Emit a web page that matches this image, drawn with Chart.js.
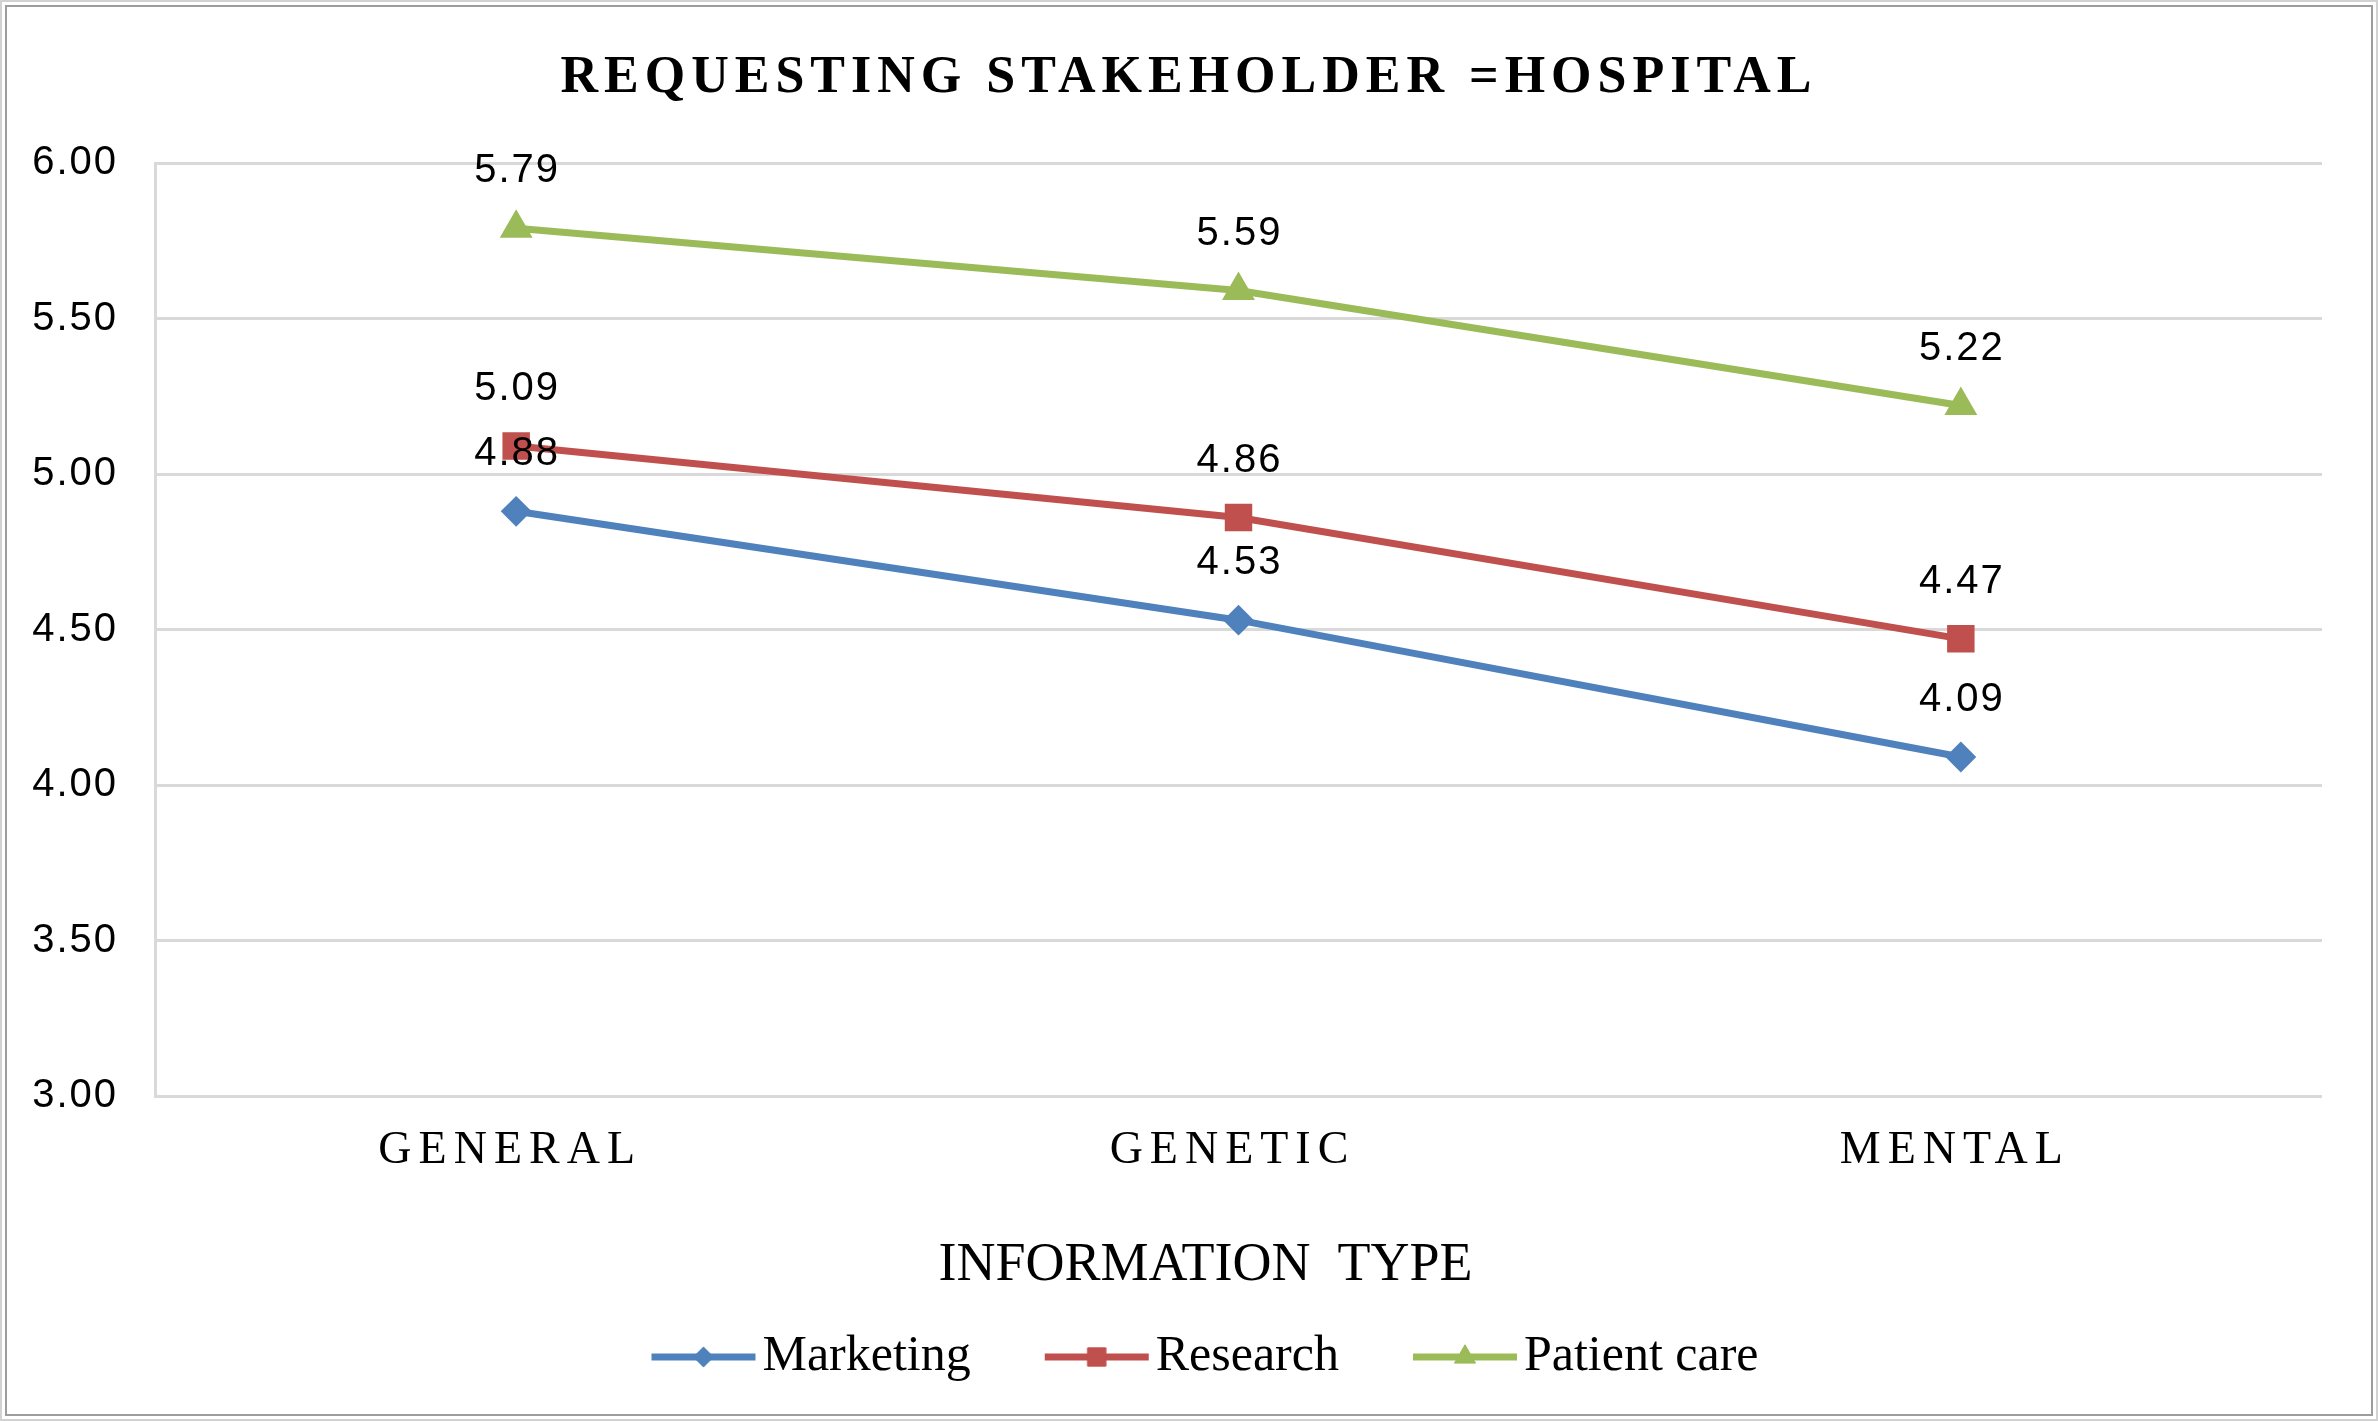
<!DOCTYPE html>
<html>
<head>
<meta charset="utf-8">
<script src="https://cdn.jsdelivr.net/npm/chart.js@4.4.1/dist/chart.umd.min.js"></script>
<style>
  html, body { margin: 0; padding: 0; background: #fff; }
  #wrap { position: relative; width: 2378px; height: 1421px; overflow: hidden; }
  #chart { position: absolute; left: 0; top: 0; }
  .frame { position: absolute; pointer-events: none; box-sizing: border-box; }
  #outer { left: 0; top: 0; width: 2378px; height: 1421px; border: 2px solid #d2d2d2; }
  #inner { left: 5px; top: 5px; width: 2368px; height: 1411px; border: 2px solid #9d9d9d; }
</style>
</head>
<body>
<div id="wrap">
  <canvas id="chart" width="2378" height="1421"></canvas>
  <div class="frame" id="outer"></div>
  <div class="frame" id="inner"></div>
</div>
<script>
'use strict';

let categories = ['GENERAL', 'GENETIC', 'MENTAL'];
let seriesNames = ['Marketing', 'Research', 'Patient care'];
let marketing = [4.88, 4.53, 4.09];
let research = [5.09, 4.86, 4.47];
let patientCare = [5.79, 5.59, 5.22];
let yTicks = [3.00, 3.50, 4.00, 4.50, 5.00, 5.50, 6.00];

let colors = ['#4F81BD', '#C0504D', '#9BBB59'];
let markers = ['rectRot', 'rect', 'triangle'];
let markerSizes = [14, 18, 17];

// legend icon: a short line with the marker in the middle
// (drawn in the right part of a wider canvas so the legend gaps come out right)
function legendIcon(color, style, radius) {
  let c = document.createElement('canvas');
  c.width = 160;
  c.height = 30;
  let g = c.getContext('2d');
  g.strokeStyle = color;
  g.fillStyle = color;
  g.lineWidth = 7;
  g.beginPath();
  g.moveTo(53, 15);
  g.lineTo(157, 15);
  g.stroke();
  g.lineWidth = 1;
  Chart.helpers.drawPoint(g, { pointStyle: style, radius: radius, borderWidth: 1, rotation: 0 }, 105, 15);
  return c;
}

let legendIcons = colors.map((c, i) => legendIcon(c, markers[i], markerSizes[i] * 0.72));

function spaced(obj, method, spacing, shiftX) {
  if (!obj || obj['_sp_' + method]) return;
  let orig = obj[method];
  obj['_sp_' + method] = true;
  obj[method] = function () {
    let ctx = this.ctx;
    ctx.save();
    ctx.letterSpacing = spacing;
    if (shiftX) ctx.translate(shiftX, 0);
    orig.apply(this, arguments);
    ctx.restore();
  };
}

let letterSpacing = {
  id: 'letterSpacing',
  beforeDraw(chart) {
    spaced(chart.titleBlock, 'draw', '6px');
    spaced(chart.scales.x, 'drawLabels', '7px');
    spaced(chart.scales.x, 'drawTitle', '0px', -33);
    spaced(chart.scales.y, 'drawLabels', '2px');
  }
};

let valueLabels = {
  id: 'valueLabels',
  afterDatasetsDraw(chart) {
    let ctx = chart.ctx;
    ctx.save();
    ctx.font = '40px "Liberation Sans", sans-serif';
    ctx.letterSpacing = '2px';
    ctx.fillStyle = '#000';
    ctx.textAlign = 'center';
    ctx.textBaseline = 'alphabetic';
    chart.data.datasets.forEach((ds, i) => {
      chart.getDatasetMeta(i).data.forEach((pt, j) => {
        ctx.fillText(ds.data[j].toFixed(2), pt.x + 1, pt.y - 46);
      });
    });
    ctx.restore();
  }
};

let allSeries = [marketing, research, patientCare];
let datasets = allSeries.map((data, i) => ({
  label: seriesNames[i],
  data: data,
  borderColor: colors[i],
  backgroundColor: colors[i],
  borderWidth: 7,
  pointStyle: markers[i],
  pointRadius: markerSizes[i],
  pointBorderWidth: 2,
  pointBackgroundColor: colors[i],
  pointBorderColor: colors[i],
  tension: 0
}));

let ctx = document.getElementById('chart');
new Chart(ctx, {
  type: 'line',
  data: {
    labels: categories,
    datasets: datasets
  },
  options: {
    responsive: false,
    animation: false,
    devicePixelRatio: 1,
    layout: { padding: { top: 0, left: 0, right: 0, bottom: 29 } },
    plugins: {
      title: {
        display: true,
        text: 'REQUESTING STAKEHOLDER =HOSPITAL',
        color: '#000',
        font: { family: "'Liberation Serif', serif", size: 52, weight: 'bold', lineHeight: 1.2 },
        padding: { top: 47, bottom: 53.6 }
      },
      legend: {
        position: 'bottom',
        labels: {
          usePointStyle: true,
          pointStyleWidth: 118,
          padding: 42,
          color: '#000',
          font: { family: "'Liberation Serif', serif", size: 50 },
          generateLabels: chart => chart.data.datasets.map((ds, i) => ({
            text: ds.label,
            pointStyle: legendIcons[i],
            fillStyle: ds.borderColor,
            strokeStyle: ds.borderColor,
            lineWidth: 0,
            hidden: false,
            datasetIndex: i
          }))
        }
      },
      tooltip: { enabled: false }
    },
    scales: {
      x: {
        offset: true,
        grid: { display: false },
        border: { display: false },
        ticks: {
          color: '#000',
          padding: 19,
          labelOffset: -6,
          maxRotation: 0,
          autoSkip: false,
          font: { family: "'Liberation Serif', serif", size: 46 }
        },
        title: {
          display: true,
          text: 'INFORMATION  TYPE',
          color: '#000',
          font: { family: "'Liberation Serif', serif", size: 54, lineHeight: 0.9 },
          padding: { top: 0, bottom: 0 }
        },
        afterFit: s => { s.height = 194; }
      },
      y: {
        min: 3,
        max: 6,
        afterBuildTicks: s => { s.ticks = yTicks.map(v => ({ value: v })); },
        grid: { color: '#d9d9d9', lineWidth: 3, drawTicks: false },
        border: { display: true, color: '#d9d9d9', width: 3 },
        ticks: {
          color: '#000',
          padding: 37,
          font: { family: "'Liberation Sans', sans-serif", size: 40 },
          callback: v => Number(v).toFixed(2)
        },
        afterFit: s => { s.width = 155; }
      },
      y2: {
        position: 'right',
        grid: { display: false },
        border: { display: false },
        ticks: { display: false },
        afterFit: s => { s.width = 56; }
      }
    }
  },
  plugins: [letterSpacing, valueLabels]
});
</script>
</body>
</html>
